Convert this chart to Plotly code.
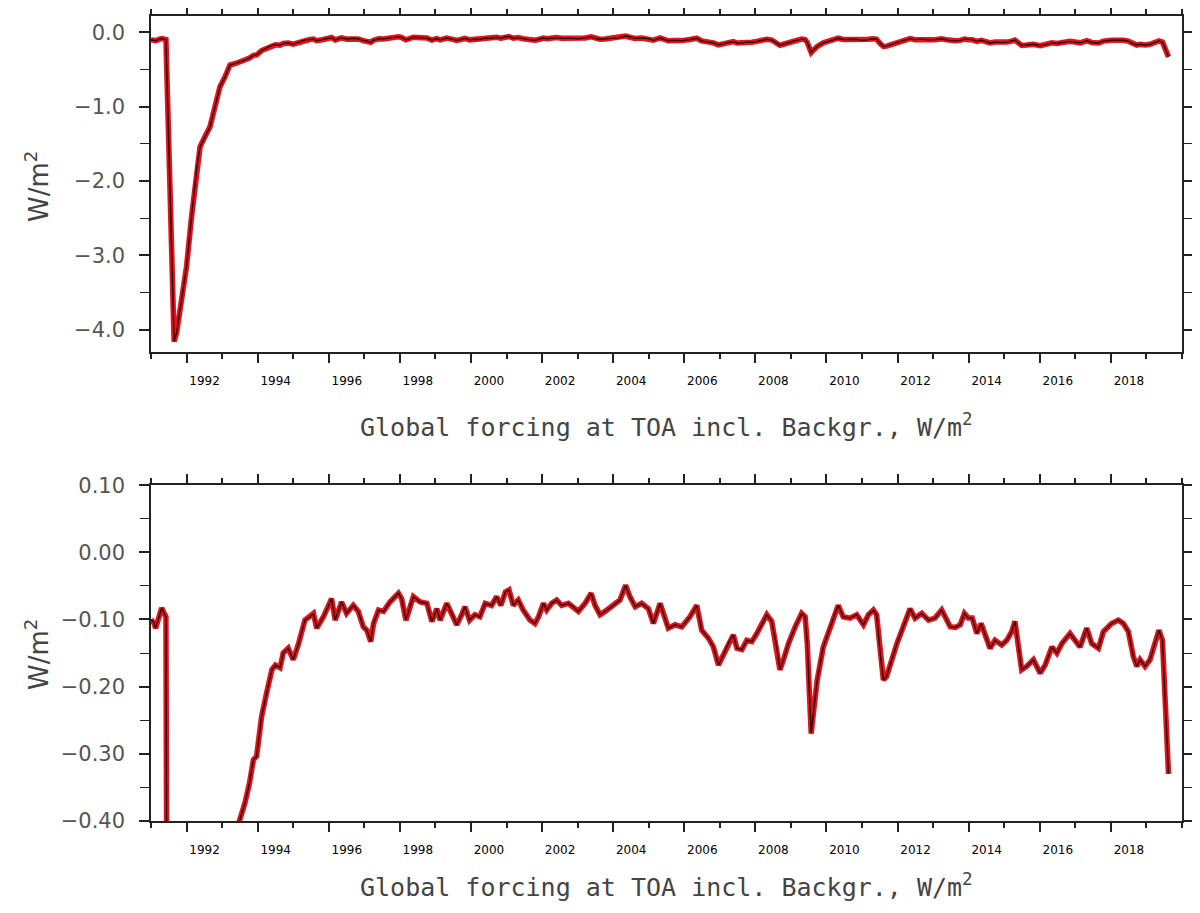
import plotly.graph_objects as go

# ---------------- data (decimal year, W/m^2) ----------------
years = [
    1991.00, 1991.08, 1991.13, 1991.22, 1991.30, 1991.38, 1991.42, 1991.50, 1991.58, 1991.65,
    1991.72, 1991.86, 1992.00, 1992.14, 1992.29, 1992.38, 1992.52, 1992.66, 1992.80, 1992.94,
    1993.08, 1993.22, 1993.40, 1993.50, 1993.64, 1993.77, 1993.88, 1993.97, 1994.11, 1994.25,
    1994.40, 1994.50, 1994.58, 1994.63, 1994.72, 1994.86, 1995.00, 1995.14, 1995.33, 1995.47,
    1995.57, 1995.66, 1995.85, 1996.08, 1996.18, 1996.36, 1996.50, 1996.69, 1996.83, 1996.97,
    1997.07, 1997.18, 1997.26, 1997.40, 1997.54, 1997.72, 1997.96, 1998.05, 1998.17, 1998.38,
    1998.57, 1998.76, 1998.90, 1999.04, 1999.13, 1999.32, 1999.46, 1999.60, 1999.74, 1999.83,
    1999.96, 2000.11, 2000.25, 2000.40, 2000.58, 2000.72, 2000.84, 2000.97, 2001.07, 2001.19,
    2001.33, 2001.47, 2001.66, 2001.80, 2001.90, 2002.04, 2002.13, 2002.27, 2002.41, 2002.55,
    2002.74, 2002.88, 2003.02, 2003.21, 2003.38, 2003.49, 2003.63, 2003.77, 2003.96, 2004.19,
    2004.35, 2004.47, 2004.62, 2004.80, 2004.99, 2005.13, 2005.32, 2005.44, 2005.55, 2005.74,
    2005.93, 2006.16, 2006.35, 2006.49, 2006.68, 2006.82, 2006.96, 2007.10, 2007.26, 2007.38,
    2007.48, 2007.62, 2007.76, 2007.90, 2008.04, 2008.18, 2008.32, 2008.46, 2008.60, 2008.69,
    2008.79, 2008.93, 2009.12, 2009.30, 2009.40, 2009.46, 2009.52, 2009.57, 2009.63, 2009.74,
    2009.91, 2010.10, 2010.24, 2010.33, 2010.47, 2010.66, 2010.85, 2011.04, 2011.18, 2011.32,
    2011.41, 2011.51, 2011.60, 2011.69, 2011.83, 2011.98, 2012.16, 2012.35, 2012.49, 2012.68,
    2012.87, 2013.05, 2013.24, 2013.38, 2013.48, 2013.62, 2013.76, 2013.88, 2013.99, 2014.10,
    2014.23, 2014.35, 2014.46, 2014.60, 2014.74, 2014.93, 2015.07, 2015.21, 2015.30, 2015.40,
    2015.49, 2015.63, 2015.82, 2016.01, 2016.15, 2016.34, 2016.48, 2016.62, 2016.85, 2016.99,
    2017.13, 2017.32, 2017.46, 2017.65, 2017.79, 2018.02, 2018.21, 2018.35, 2018.49, 2018.63,
    2018.73, 2018.82, 2018.96, 2019.10, 2019.24, 2019.35, 2019.45, 2019.62,
]
forcing = [
    -0.100, -0.105, -0.113, -0.095, -0.083, -0.092, -0.096, -1.500, -3.000, -4.160,
    -4.040, -3.600, -3.150, -2.480, -1.810, -1.540, -1.400, -1.270, -1.000, -0.730,
    -0.600, -0.440, -0.415, -0.399, -0.374, -0.344, -0.309, -0.304, -0.245, -0.210,
    -0.175, -0.168, -0.170, -0.172, -0.150, -0.143, -0.160, -0.138, -0.101, -0.096,
    -0.091, -0.113, -0.096, -0.069, -0.101, -0.074, -0.091, -0.079, -0.088, -0.111,
    -0.116, -0.133, -0.106, -0.086, -0.088, -0.074, -0.061, -0.069, -0.101, -0.066,
    -0.074, -0.076, -0.103, -0.084, -0.101, -0.076, -0.091, -0.108, -0.093, -0.081,
    -0.101, -0.093, -0.096, -0.076, -0.079, -0.066, -0.079, -0.059, -0.056, -0.079,
    -0.071, -0.086, -0.101, -0.106, -0.096, -0.076, -0.086, -0.076, -0.071, -0.079,
    -0.076, -0.081, -0.088, -0.076, -0.061, -0.079, -0.093, -0.088, -0.081, -0.071,
    -0.049, -0.066, -0.081, -0.076, -0.084, -0.106, -0.076, -0.096, -0.113, -0.108,
    -0.111, -0.096, -0.079, -0.116, -0.128, -0.141, -0.168, -0.153, -0.133, -0.123,
    -0.143, -0.145, -0.131, -0.133, -0.121, -0.108, -0.093, -0.103, -0.141, -0.175,
    -0.160, -0.136, -0.111, -0.091, -0.096, -0.136, -0.210, -0.270, -0.240, -0.190,
    -0.141, -0.111, -0.091, -0.079, -0.096, -0.098, -0.093, -0.108, -0.093, -0.086,
    -0.093, -0.150, -0.190, -0.185, -0.160, -0.136, -0.111, -0.084, -0.098, -0.091,
    -0.101, -0.098, -0.086, -0.101, -0.111, -0.112, -0.108, -0.091, -0.098, -0.098,
    -0.121, -0.106, -0.121, -0.143, -0.131, -0.138, -0.131, -0.118, -0.103, -0.141,
    -0.175, -0.170, -0.160, -0.180, -0.168, -0.141, -0.150, -0.136, -0.121, -0.131,
    -0.141, -0.113, -0.136, -0.143, -0.118, -0.106, -0.101, -0.106, -0.118, -0.155,
    -0.170, -0.160, -0.170, -0.160, -0.136, -0.116, -0.131, -0.330,
]

year_labels = ["1992", "1994", "1996", "1998", "2000", "2002", "2004",
               "2006", "2008", "2010", "2012", "2014", "2016", "2018"]
year_ticks = [int(s) for s in year_labels]                 # long ticks (labelled years)
all_year_ticks = list(range(1991, 2021))                   # short ticks every year

title_x = "Global forcing at TOA incl. Backgr., W/m<sup>2</sup>"
title_y = "W/m<sup>2</sup>"

X_RANGE = [1991.0, 2020.0]
TOP_Y_RANGE = [-4.30, 0.22]
BOT_Y_RANGE = [-0.4003, 0.1003]

# ---------------- figure ----------------
W, H = 1200, 913
OFF = 8  # page body margin


def px_x(p):
    return (p - OFF) / W


def px_y(p):
    return (H - (p - OFF)) / H


x_dom = [px_x(151), px_x(1182)]
top_dom = [px_y(352), px_y(16)]
bot_dom = [px_y(821), px_y(485)]
year_px = (1182 - 151) / (X_RANGE[1] - X_RANGE[0])

RED = "#e3141b"
DARK = "#2b0505"
AX = "#222222"

fig = go.Figure()
for xa, ya in (("x", "y"), ("x2", "y2")):
    fig.add_trace(go.Scatter(x=years, y=forcing, mode="lines", xaxis=xa, yaxis=ya,
                             line=dict(color=RED, width=5.5), hoverinfo="skip",
                             showlegend=False))
    fig.add_trace(go.Scatter(x=years, y=forcing, mode="lines", xaxis=xa, yaxis=ya,
                             line=dict(color=DARK, width=1.4), showlegend=False))

tick_font = dict(family="DejaVu Sans", size=21, color="#555555")
xlab_font = dict(family="DejaVu Sans", size=12, color="#000000")


def x_axis(anchor):
    return dict(domain=x_dom, anchor=anchor, range=X_RANGE, showgrid=False, zeroline=False,
                automargin=False,
                showline=True, linecolor=AX, linewidth=1.5, mirror="ticks",
                ticks="outside", tickmode="array", tickvals=year_ticks, ticktext=year_labels,
                ticklen=9, tickwidth=1.6, tickcolor=AX, tickfont=xlab_font,
                ticklabelshift=int(round(year_px / 2)), ticklabelstandoff=8,
                minor=dict(ticks="outside", tickmode="array", tickvals=all_year_ticks,
                           ticklen=5, tickwidth=1.6, tickcolor=AX, showgrid=False))


def y_axis(dom, anchor, rng, dtick, fmt, minor_dtick):
    return dict(domain=dom, anchor=anchor, range=rng, showgrid=False, zeroline=False,
                automargin=False,
                showline=True, linecolor=AX, linewidth=1.5, mirror="ticks",
                ticks="outside", tick0=0, dtick=dtick, tickformat=fmt, ticklen=10,
                tickwidth=1.6, tickcolor=AX, tickfont=tick_font, ticklabelstandoff=10,
                minor=dict(ticks="outside", tick0=0, dtick=minor_dtick, ticklen=9,
                           tickwidth=1.4, tickcolor=AX, showgrid=False))


title_font = dict(family="DejaVu Sans Mono", size=25, color="#444444")
ytitle_font = dict(family="DejaVu Sans", size=26, color="#444444")

fig.update_layout(
    width=W, height=H, margin=dict(l=0, r=0, t=0, b=0, autoexpand=False),
    paper_bgcolor="white", plot_bgcolor="white",
    xaxis=x_axis("y"),
    xaxis2=x_axis("y2"),
    yaxis=y_axis(top_dom, "x", TOP_Y_RANGE, 1, ".1f", 0.5),
    yaxis2=y_axis(bot_dom, "x2", BOT_Y_RANGE, 0.1, ".2f", 0.05),
    annotations=[
        dict(text=title_x, xref="paper", yref="paper", x=px_x(666), y=px_y(425),
             xanchor="center", yanchor="middle", showarrow=False, font=title_font),
        dict(text=title_x, xref="paper", yref="paper", x=px_x(666), y=px_y(885),
             xanchor="center", yanchor="middle", showarrow=False, font=title_font),
        dict(text=title_y, xref="paper", yref="paper", x=px_x(37), y=px_y(187),
             xanchor="center", yanchor="middle", textangle=-90, showarrow=False,
             font=ytitle_font),
        dict(text=title_y, xref="paper", yref="paper", x=px_x(37), y=px_y(655),
             xanchor="center", yanchor="middle", textangle=-90, showarrow=False,
             font=ytitle_font),
    ],
)

fig.write_html("out.html")
